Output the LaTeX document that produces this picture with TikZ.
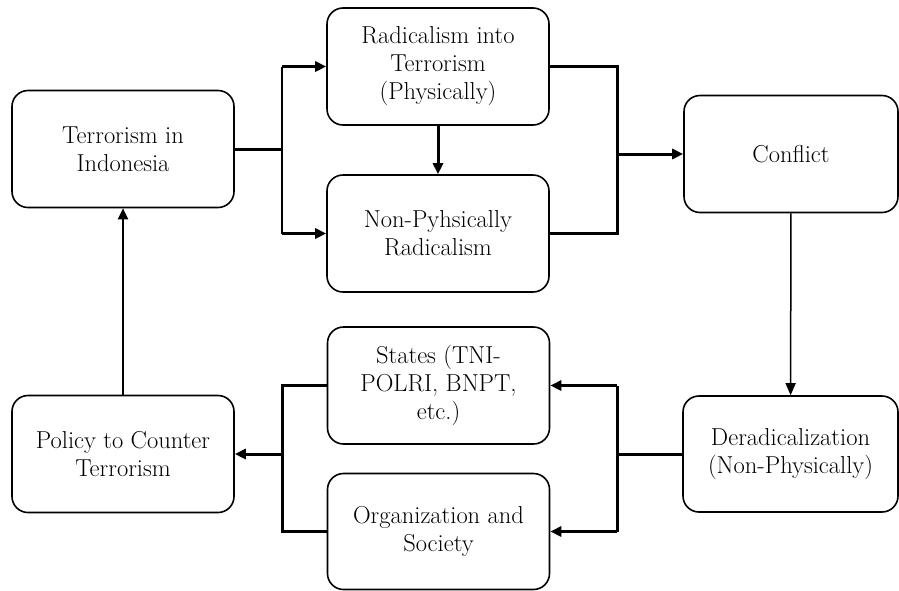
\documentclass[tikz,border=0pt]{standalone}
\usepackage{tikz}
\usetikzlibrary{arrows.meta, positioning, calc}

\begin{document}
\begin{tikzpicture}[x=1pt, y=-1pt,
    box/.style={draw, line width=1.6pt, rounded corners=16pt, minimum width=222pt,
      minimum height=117pt, inner sep=0pt, align=center,
      font=\fontsize{24.5}{28}\selectfont},
    link/.style={line width=3pt},
    thinlink/.style={line width=1.5pt},
    arr/.style={link, -{Triangle[length=11pt, width=10pt]}},
    thinarr/.style={thinlink, -{Triangle[length=12pt, width=10pt]}}]
    \useasboundingbox (0,0) rectangle (899,590);
    % Upper row
    \node[box] (terr) at (123,149) {Terrorism in\\Indonesia};
    \node[box] (rad) at (438,66.5) {Radicalism into\\Terrorism\\(Physically)};
    \node[box] (non) at (438,233.5) {Non-Pyhsically\\Radicalism};
    \node[box, minimum width=214pt] (conf) at (791,154) {Conflict};
    % Lower row
    \node[box] (pol) at (123,454) {Policy to Counter\\Terrorism};
    \node[box] (states) at (438.5,385.5) {States (TNI-\\POLRI, BNPT,\\etc.)};
    \node[box, minimum height=116pt] (org) at (438.5,531.5) {Organization and\\Society};
    \node[box, minimum width=215pt, minimum height=116pt] (derad) at (790.5,454)
      {Deradicalization\\(Non-Physically)};
    % Forks
    \coordinate (forkA) at (282,149);
    \coordinate (forkB) at (617,154);
    \coordinate (forkC) at (617,454);
    \coordinate (forkD) at (282,454);
    % Terrorism -> radicalism
    \draw[link] (terr.east) -- (forkA);
    \draw[thinlink] (forkA |- rad.west) -- (forkA |- non.west);
    \draw[arr] (forkA |- rad.west) -- (rad.west);
    \draw[arr] (forkA |- non.west) -- (non.west);
    \draw[arr] (rad) -- (non);
    % Radicalism -> conflict
    \draw[link] (rad.east) -| (forkB);
    \draw[link] (non.east) -| (forkB);
    \draw[arr] (forkB) -- (conf.west);
    \draw[thinarr] (conf) -- (derad);
    % Deradicalization -> actors
    \draw[link] (derad.west) -- (forkC);
    \draw[link] (forkC |- states.east) -- (forkC |- org.east);
    \draw[arr] (forkC |- states.east) -- (states.east);
    \draw[arr] (forkC |- org.east) -- (org.east);
    % Actors -> policy
    \draw[link] (states.west) -| (forkD);
    \draw[link] (org.west) -| (forkD);
    \draw[arr] (forkD) -- (pol.east);
    \draw[arr, line width=2.2pt] (pol) -- (terr);
\end{tikzpicture}
\end{document}
